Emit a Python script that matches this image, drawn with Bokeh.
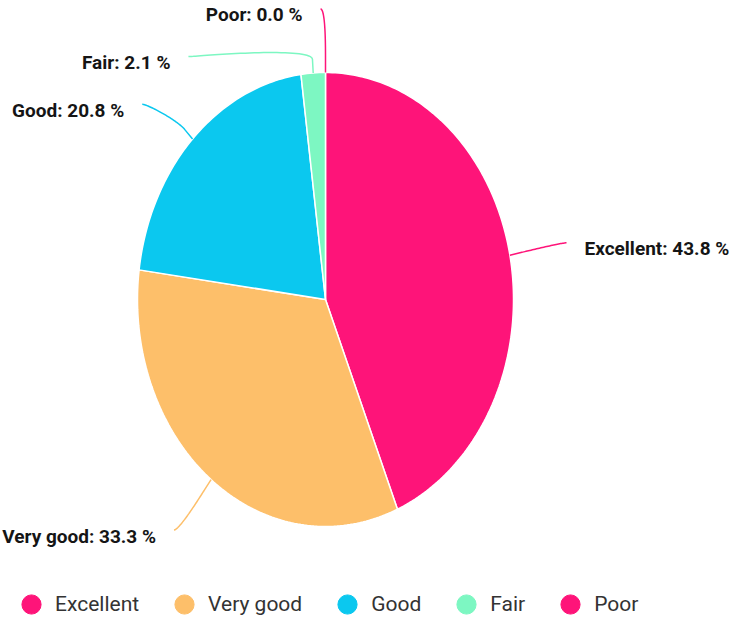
import numpy as np
from bokeh.plotting import figure
from bokeh.models import Range1d, Legend, LegendItem
from bokeh.embed import file_html
from bokeh.resources import INLINE
from bokeh.core.properties import value

# ---- data ----
categories = ["Excellent", "Very good", "Good", "Fair", "Poor"]
counts = [21, 16, 10, 1, 0]
colors = ["#fe1479", "#fdbf6a", "#0bc8ef", "#7df7c2", "#fe1479"]

# ---- layout ----
W, H = 731, 619
CX_PX, CY_PX = 325, 299          # pie centre in figure pixels (from top-left)
RX_PX, RY_PX = 188, 227          # pie radii in pixels
K_LABEL, K_BREAK, GAP = 1.28, 1.06, 0.21
FONT = "Roboto"

p = figure(width=W, height=H, output_backend="svg", toolbar_location=None,
           min_border=0, x_axis_location=None, y_axis_location=None,
           x_range=Range1d(-CX_PX / RX_PX, (W - CX_PX) / RX_PX),
           y_range=Range1d(-(H - CY_PX) / RY_PX, CY_PX / RY_PX))
p.xgrid.visible = False
p.ygrid.visible = False
p.outline_line_color = None
p.background_fill_color = "white"

total = float(sum(counts))
fr = np.array(counts) / total
ends = np.cumsum(fr) * 2 * np.pi
starts = ends - fr * 2 * np.pi
mids = (starts + ends) / 2

# slices
xs, ys, cs = [], [], []
for a0, a1, c, n in zip(starts, ends, colors, counts):
    if n <= 0:
        continue
    t = np.linspace(a0, a1, max(3, int(np.degrees(a1 - a0)) + 2))
    xs.append(np.concatenate([[0.0], np.sin(t)]))
    ys.append(np.concatenate([[0.0], np.cos(t)]))
    cs.append(c)
p.patches(xs, ys, fill_color=cs, line_color="white", line_width=1.5)

# label placement (distribute to avoid overlaps)
natural = K_LABEL * np.cos(mids)
right = (mids > 0) & (mids < np.pi)
label_y = natural.copy()
for side in (True, False):
    idx = [i for i in range(len(mids)) if right[i] == side]
    idx.sort(key=lambda i: -natural[i])
    prev = None
    for i in idx:
        y = min(natural[i], K_LABEL)
        if prev is not None:
            y = min(y, prev - GAP)
        label_y[i] = y
        prev = y
label_x = np.where(right, 1, -1) * K_LABEL * np.sqrt(np.clip(1 - (label_y / K_LABEL) ** 2, 0, 1))

# connectors (soft connector: curve from label to break point, then line to slice)
cx_list, cy_list = [], []
hook = 5.0 / RX_PX
for i in range(len(mids)):
    T = np.array([np.sin(mids[i]), np.cos(mids[i])])
    B = K_BREAK * T
    E = np.array([label_x[i], label_y[i]])
    S = E + np.array([hook if right[i] else -hook, 0.0])
    C1 = E
    C2 = 2 * B - T
    u = np.linspace(0, 1, 40)[:, None]
    bez = ((1 - u) ** 3) * S + 3 * ((1 - u) ** 2) * u * C1 + 3 * (1 - u) * u ** 2 * C2 + u ** 3 * B
    pts = np.vstack([bez, T])
    cx_list.append(pts[:, 0])
    cy_list.append(pts[:, 1])
p.multi_line(cx_list, cy_list, line_color=colors, line_width=1.5)

labels = [f"{c}: {n / total * 100:.1f} %" for c, n in zip(categories, counts)]
for side in (True, False):
    idx = [i for i in range(len(mids)) if right[i] == side]
    p.text(x=[label_x[i] for i in idx], y=[label_y[i] for i in idx],
           text=[labels[i] for i in idx],
           text_align="left" if side else "right", text_baseline="middle",
           x_offset=23 if side else -23, y_offset=6,
           text_font=value(FONT), text_font_style="bold", text_font_size="19px",
           text_color="#151515")

# legend
items = []
for cat, col in zip(categories, colors):
    r = p.scatter(x=[np.nan], y=[np.nan], marker="circle", size=20,
                  fill_color=col, line_color=col)
    items.append(LegendItem(label=cat, renderers=[r]))
legend = Legend(items=items, orientation="horizontal", location=(7, -9),
                glyph_width=48, glyph_height=48, label_standoff=0, spacing=21,
                padding=0, margin=0, border_line_color=None,
                background_fill_alpha=0, label_text_font=FONT,
                label_text_font_size="21px", label_text_color="#333333")
p.add_layout(legend)

open("out.html", "w").write(file_html(p, INLINE))
